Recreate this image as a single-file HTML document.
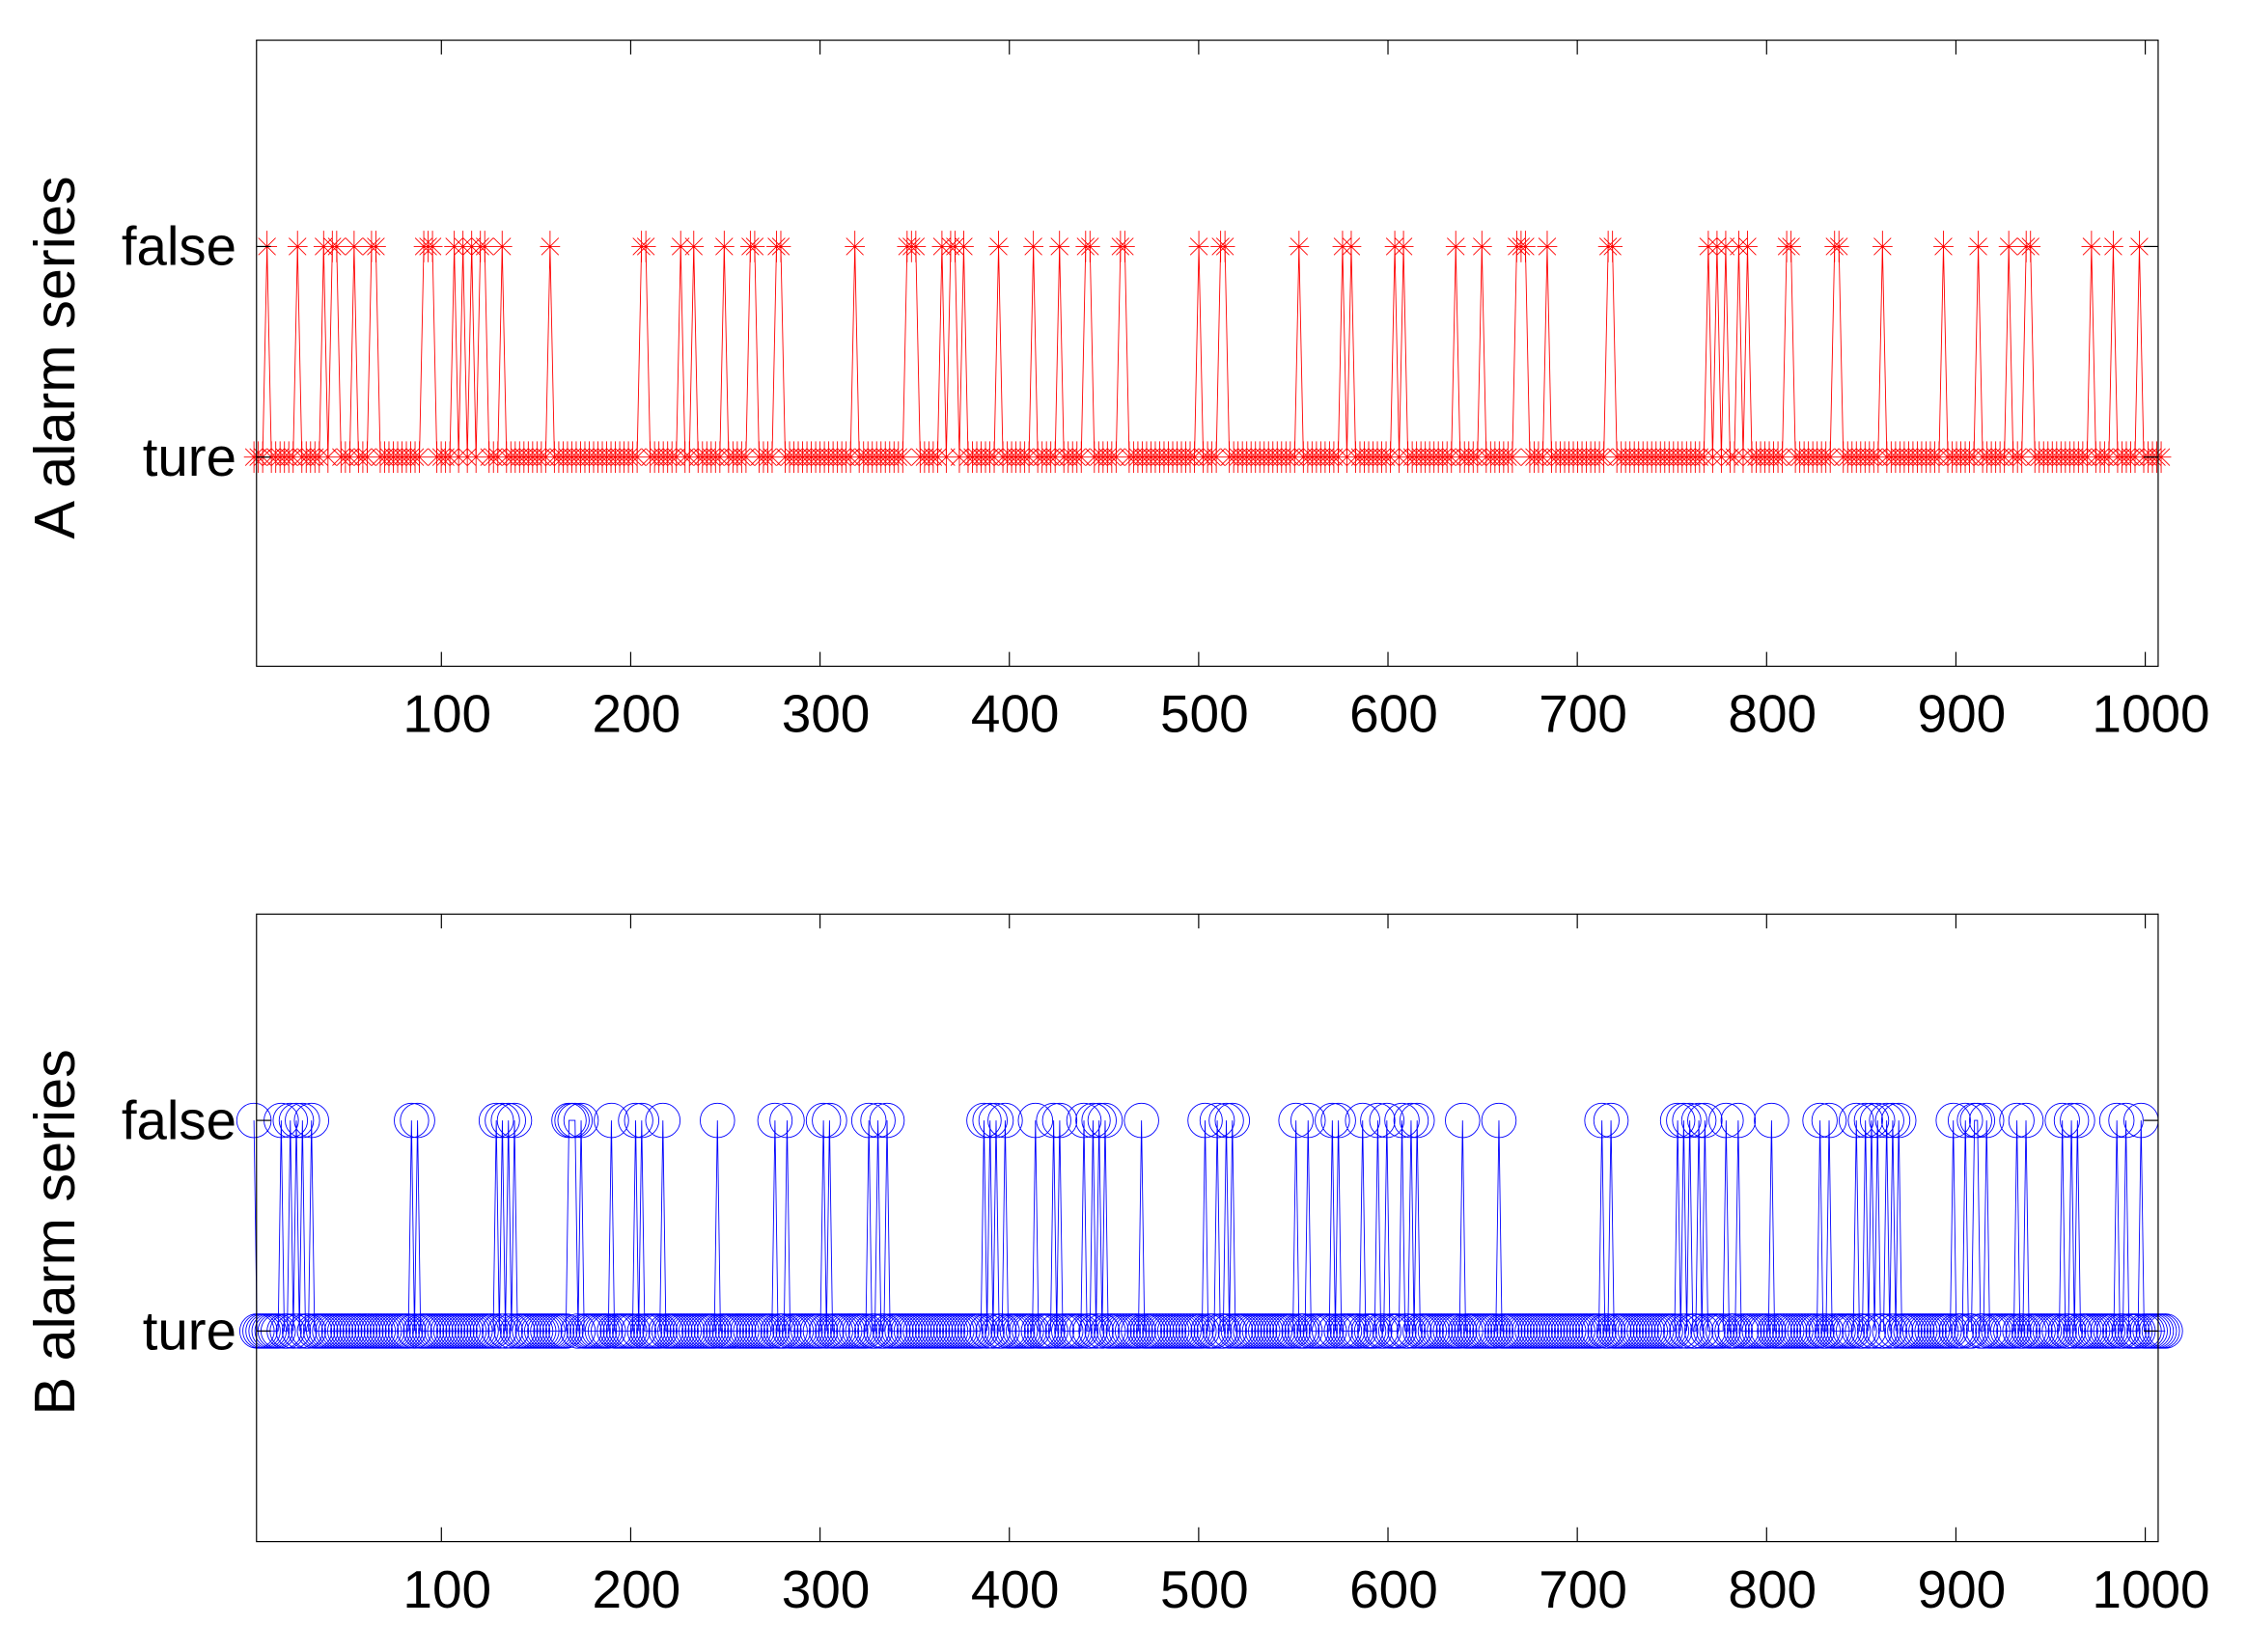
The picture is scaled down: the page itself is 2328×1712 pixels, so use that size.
<!DOCTYPE html>
<html><head><meta charset="utf-8"><style>html,body{margin:0;padding:0;background:#fff}svg{display:block}</style></head>
<body>
<svg id="s" xmlns="http://www.w3.org/2000/svg" width="2328" height="1712" viewBox="0 0 1568 1153" font-family="Liberation Sans, Arial, sans-serif">
<rect width="1568" height="1153" fill="#fff"/>
<g id="g"></g>
</svg>
<script>
var NS="http://www.w3.org/2000/svg",g=document.getElementById("g");
function el(t,a,txt){var e=document.createElementNS(NS,t);for(var k in a)e.setAttribute(k,a[k]);if(txt!==undefined)e.textContent=txt;g.appendChild(e);return e;}
var X0=175.9,SX=1.3211,L=179,R=1506;
function px(i){return X0+i*SX;}
var topPx=[186,207,225,231,235,248,258,262,297,300,303,318,322,330,334,338,350,384,448,452,476,484,506,523,528,542,546,598,632,637,640,657,663,667,671,697,720,738,757,760,781,784,838,851,855,905,938,942,944,972,978,1015,1035,1057,1061,1065,1079,1121,1125,1192,1198,1205,1213,1218,1246,1251,1279,1283,1315,1357,1379,1401,1413,1418,1458,1476,1494];
var botPx=[178,196,202,206,211,217,288,292,347,351,355,360,396,399,402,405,427,443,447,463,500,541,549,574,579,606,613,619,686,690,695,701,722,735,740,756,762,767,772,796,840,850,856,861,905,913,929,933,950,962,967,979,985,989,1021,1046,1117,1124,1170,1175,1180,1185,1189,1204,1213,1237,1271,1276,1295,1301,1306,1311,1316,1321,1325,1362,1372,1377,1381,1386,1408,1413,1440,1445,1450,1478,1484,1495];
function series(pxs,x0,x1,step){var xs=[],v=[];for(var x=x0;x<=x1+1e-6;x+=step){xs.push(px(x));v.push(0);}
  pxs.forEach(function(p){var best=0,bd=1e9;for(var i=0;i<xs.length;i++){var d=Math.abs(xs[i]-p);if(d<bd){bd=d;best=i;}}v[best]=1;});
  return {xs:xs,v:v};}
function panel(top,bot,yT,yF,S,color,mk,lab){
  var d="";for(var i=0;i<S.xs.length;i++){d+=(i?"L":"M")+S.xs[i].toFixed(2)+" "+(S.v[i]?yF:yT);}
  el("path",{d:d,fill:"none",stroke:color,"stroke-width":0.6});
  var m="";
  for(var i=0;i<S.xs.length;i++){var x=S.xs[i],y=S.v[i]?yF:yT;
    if(mk=="star"){var r=7,rv=11,q=6;m+="M"+(x-r)+" "+y+"h"+(2*r)+"M"+x+" "+(y-rv)+"v"+(2*rv)+"M"+(x-q)+" "+(y-q)+"l"+(2*q)+" "+(2*q)+"M"+(x-q)+" "+(y+q)+"l"+(2*q)+" "+(-2*q);}
    else{m+="M"+(x-12)+" "+y+"a12 12 0 1 0 24 0a12 12 0 1 0 -24 0";}
  }
  el("path",{d:m,fill:"none",stroke:color,"stroke-width":0.6});
  el("rect",{x:L,y:top,width:R-L,height:bot-top,fill:"none",stroke:"#000","stroke-width":0.8});
  for(var v=100;v<=1000;v+=100){var x=px(v);
    el("line",{x1:x,y1:bot,x2:x,y2:bot-10,stroke:"#000","stroke-width":0.8});
    el("line",{x1:x,y1:top,x2:x,y2:top+10,stroke:"#000","stroke-width":0.8});
    el("text",{x:x+4,y:bot+46,"font-size":37,"text-anchor":"middle"},String(v));}
  [yT,yF].forEach(function(y){
    el("line",{x1:L,y1:y,x2:L+10,y2:y,stroke:"#000","stroke-width":0.8});
    el("line",{x1:R,y1:y,x2:R-10,y2:y,stroke:"#000","stroke-width":0.8});});
  el("text",{x:165,y:yF+13,"font-size":38,"text-anchor":"end"},"false");
  el("text",{x:165,y:yT+13,"font-size":38,"text-anchor":"end"},"ture");
  var cy=(top+bot)/2+3;
  el("text",{x:0,y:0,"font-size":40,"text-anchor":"middle",transform:"translate(52 "+cy+") rotate(-90)"},lab);
}
panel(28,465,319,172,series(topPx,1,1010,2.3),"#ff0000","star","A alarm series");
panel(638,1076,929,782,series(botPx,1,1012,1.6),"#0000ff","circ","B alarm series");
</script>
</body></html>
